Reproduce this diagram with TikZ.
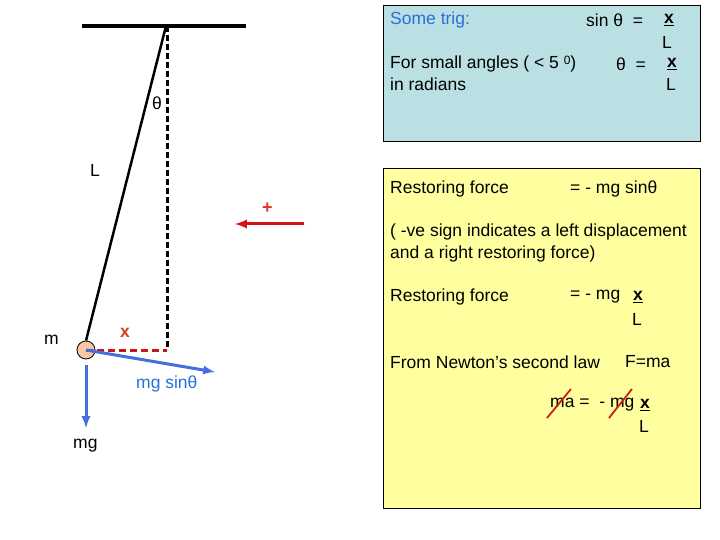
\documentclass[tikz,border=0pt]{standalone}
\usepackage{fontspec}
\setmainfont{Liberation Sans}
\begin{document}
\begin{tikzpicture}[x=1pt,y=-1pt,
  txt/.style={anchor=west,inner sep=0pt,font=\fontsize{17.5}{20}\selectfont},
  bx/.style={font=\fontsize{17.5}{20}\selectfont\bfseries},
  blu/.style={draw={rgb,255:red,70;green,110;blue,220},line width=3pt,-latex},
  strk/.style={draw={rgb,255:red,200;green,30;blue,30},line width=1.8pt}]
\useasboundingbox (0,0) rectangle (720,540);
\definecolor{boxblue}{RGB}{187,224,227}
\definecolor{boxyel}{RGB}{255,255,160}
\definecolor{txtblue}{RGB}{40,110,220}
\definecolor{xred}{RGB}{220,60,30}
% boxes
\node[draw,line width=1pt,fill=boxblue,minimum width=317pt,minimum height=136pt,anchor=north west,inner sep=0] (b1) at (383,5) {};
\node[draw,line width=1pt,fill=boxyel,minimum width=317pt,minimum height=340pt,anchor=north west,inner sep=0] (b2) at (383,168) {};
% pendulum
\coordinate (p) at (166,26);
\coordinate (bl) at (82,26); \coordinate (br) at (246,26);
\draw[line width=3.5pt] (bl) -- (br);
\coordinate (v) at (167,350);
\draw[line width=3pt,dash pattern=on 6pt off 3pt] (167,26) -- (v);
\node[circle,draw,line width=0.8pt,fill={rgb,255:red,250;green,200;blue,160},minimum size=18pt,inner sep=0] (bob) at (86,350) {};
\draw[line width=2.5pt] (p) -- (bob.north);
\draw[draw={rgb,255:red,200;green,20;blue,20},line width=3pt,dash pattern=on 7pt off 4pt] (bob.center) -- (v);
\node[txt] (th) at (152,103) {θ};
\node[txt] (L) at (90,170) {L};
\node[txt] (m) at (44,340) {m};
\node[txt,bx,text=xred] (x) at (120,333) {x};
\coordinate (bs) at (86,365); \coordinate (mgend) at (86,428);
\draw[blu] (bs) -- (mgend);
\coordinate (sinend) at (215,372);
\draw[blu] (bob.center) -- (sinend);
\node[txt,text=txtblue] (ms) at (136,384) {mg sinθ};
\node[txt] (mg) at (73,446) {mg};
% plus arrow
\coordinate (a1) at (304,224); \coordinate (a2) at (235,224);
\draw[draw={rgb,255:red,210;green,20;blue,20},line width=3pt,-latex] (a1) -- (a2);
\node[txt,text=xred,font=\fontsize{18}{18}\selectfont\bfseries] (plus) at (262,208) {+};
% box1 text
\node[txt,text=txtblue] (t1) at (390,20) {Some trig:};
\node[txt] (t2) at (586,20) {sin θ\ \ =};
\node[txt,bx] (t3) at (664,20) {\underline{x}};
\node[txt] (t4) at (662,42) {L};
\node[txt] (t5) at (390,64) {For small angles ( < 5 \raisebox{0.45ex}{\fontsize{12}{12}\selectfont 0})};
\node[txt] (t6) at (390,84) {in radians};
\node[txt] (t7) at (616,64) {θ\ \ =};
\node[txt,bx] (t8) at (667,64) {\underline{x}};
\node[txt] (t9) at (666,84) {L};
% box2 text
\node[txt] (r1) at (390,189) {Restoring force};
\node[txt] (r2) at (570,189) {=\ - mg sinθ};
\node[txt] (r3) at (390,232) {( -ve sign indicates a left displacement};
\node[txt] (r4) at (390,254) {and a right restoring force)};
\node[txt] (r5) at (390,297) {Restoring force};
\node[txt] (r6) at (570,297) {=\ - mg};
\node[txt,bx] (r7) at (633,297) {\underline{x}};
\node[txt] (r8) at (632,319) {L};
\node[txt] (n1) at (390,362) {From Newton’s second law};
\node[txt] (n2) at (625,362) {F=ma};
\node[txt] (e1) at (550,405) {ma =\ \ - mg};
\node[txt,bx] (e2) at (640,405) {\underline{x}};
\node[txt] (e3) at (639,426) {L};
\coordinate (s1a) at (547,418); \coordinate (s1b) at (571,389);
\coordinate (s2a) at (609,418); \coordinate (s2b) at (632,389);
\draw[strk] (s1a) -- (s1b);
\draw[strk] (s2a) -- (s2b);
\end{tikzpicture}
\end{document}
